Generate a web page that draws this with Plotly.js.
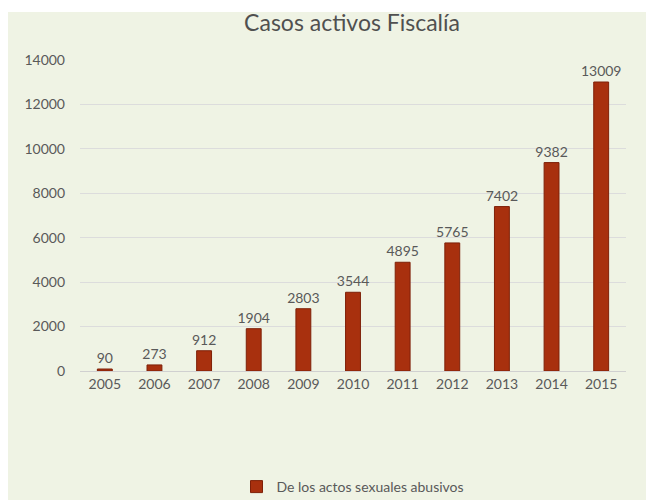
<!DOCTYPE html>
<html>
<head>
<meta charset="utf-8">
<script src="https://cdn.plot.ly/plotly-3.0.1.min.js"></script>
<style>
html,body{margin:0;padding:0;background:#ffffff;}
#chart{width:646px;height:500px;}
</style>
</head>
<body>
<div id="chart"></div>
<script>
const years = ['2005','2006','2007','2008','2009','2010','2011','2012','2013','2014','2015'];
const casos = [90, 273, 912, 1904, 2803, 3544, 4895, 5765, 7402, 9382, 13009];
const seriesName = 'De los actos sexuales abusivos';
const yTicks = [0, 2000, 4000, 6000, 8000, 10000, 12000, 14000];
const yTickText = yTicks.map(String);

const trace = {
  type: 'bar',
  x: years,
  y: casos,
  name: seriesName,
  width: 0.3,
  marker: {color: '#a8300e', line: {color: '#7e2008', width: 1}},
  text: casos.map(String),
  textposition: 'outside',
  textangle: 0,
  constraintext: 'none',
  cliponaxis: false,
  textfont: {family: 'Lato, "DejaVu Sans", sans-serif', size: 14, color: '#595959'},
  showlegend: true
};

const L = 80, R = 20, T = 60, B = 129, W = 646, H = 500;
const pw = W - L - R, ph = H - T - B;
const px = v => (v - L) / pw;
const py = v => (H - B - v) / ph;

const layout = {
  width: W,
  height: H,
  paper_bgcolor: '#ffffff',
  plot_bgcolor: 'rgba(0,0,0,0)',
  font: {family: 'Lato, "DejaVu Sans", sans-serif', color: '#595959', size: 14},
  title: {text: 'Casos activos Fiscalía', x: 0.545, xanchor: 'center', y: 0.955, yanchor: 'middle',
          font: {size: 23, color: '#505050', family: 'Lato, "DejaVu Sans", sans-serif'}},
  margin: {l: L, r: R, t: T, b: B, autoexpand: false},
  bargap: 0.6,
  xaxis: {type: 'category', showgrid: false, showline: true, linecolor: '#d0d0d0',
          ticks: '', tickfont: {size: 14, color: '#595959'}, automargin: false},
  yaxis: {range: [0, 14000], tickvals: yTicks, ticktext: yTickText, showgrid: true, gridcolor: '#dcdcdc',
          zeroline: false, showline: false, ticks: '', tickfont: {size: 14, color: '#595959'},
          ticklabelstandoff: 14, automargin: false},
  shapes: [{type: 'rect', xref: 'paper', yref: 'paper', layer: 'below',
            x0: px(8), x1: px(646), y0: py(500), y1: py(12),
            fillcolor: '#eff3e4', line: {width: 0}}],
  showlegend: true,
  legend: {orientation: 'h', x: 0.5, xanchor: 'center', y: py(487), yanchor: 'middle',
           font: {size: 14, color: '#595959'}, bgcolor: 'rgba(0,0,0,0)'}
};

Plotly.newPlot('chart', [trace], layout, {displayModeBar: false, staticPlot: true});
</script>
</body>
</html>
